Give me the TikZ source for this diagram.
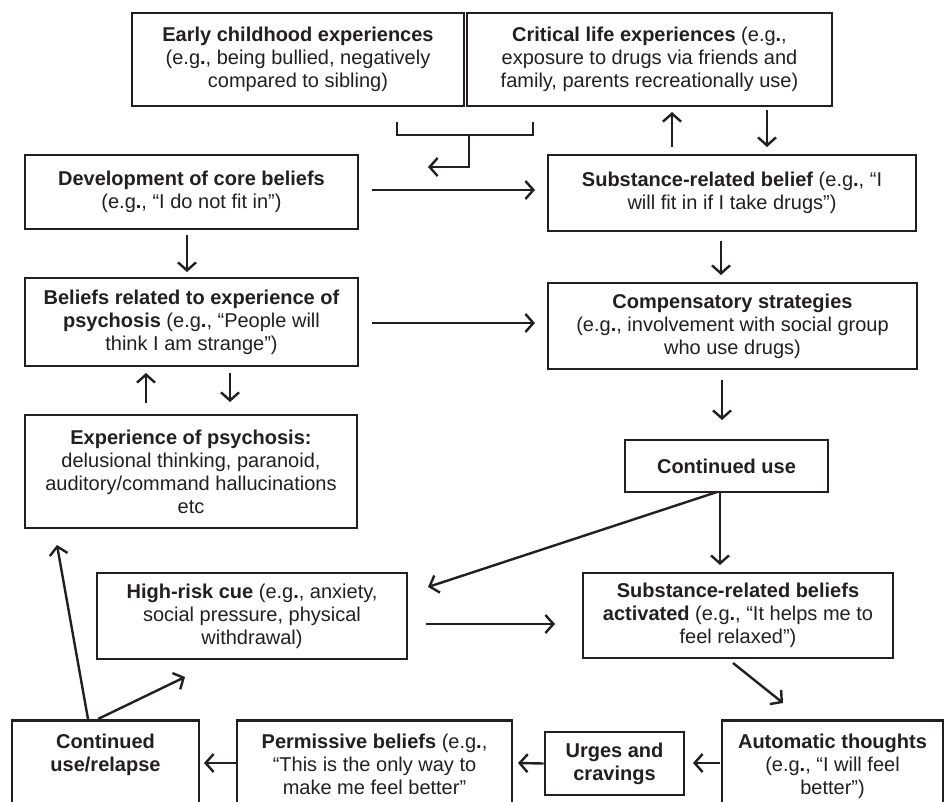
\documentclass[tikz,border=0pt]{standalone}
\usepackage{fontspec}
\setmainfont{Liberation Sans}
\usetikzlibrary{arrows.meta}
\definecolor{ink}{HTML}{231F20}
\tikzset{
  box/.style={draw=ink, line width=2.6pt, inner xsep=0pt, inner ysep=0pt, align=center, text=ink,
              font=\fontsize{20}{23}\selectfont},
  cutbox/.style={box, anchor=north, inner ysep=14pt, text depth=70pt},
  arr/.style={draw=ink, line width=2.4pt, -{Straight Barb[length=8pt,width=18pt]}},
  ln/.style={draw=ink, line width=2.4pt},
}
\begin{document}
\begin{tikzpicture}[x=1pt,y=-1pt]
\useasboundingbox (0,0) rectangle (944,801);
\clip (0,0) rectangle (944,801);
\fill[white] (0,0) rectangle (944,801);

% boxes
\node[box, minimum width=332, minimum height=93] (early) at (298,59.5)
  {\textbf{Early childhood experiences}\\(e.g\textbf{.}, being bullied, negatively\\compared to sibling)};
\node[box, minimum width=365, minimum height=93] (critical) at (649.5,59.5)
  {\textbf{Critical life experiences} (e.g\textbf{.},\\exposure to drugs via friends and\\family, parents recreationally use)};
\node[box, minimum width=333, minimum height=74] (dev) at (191.5,192)
  {\textbf{Development of core beliefs}\\(e.g\textbf{.}, “I do not fit in”)};
\node[box, minimum width=368, minimum height=76] (subst) at (732,193)
  {\textbf{Substance-related belief} (e.g\textbf{.}, “I\\will fit in if I take drugs”)};
\node[box, minimum width=333, minimum height=88] (beliefs) at (191.5,322)
  {\textbf{Beliefs related to experience of}\\\textbf{psychosis} (e.g\textbf{.}, “People will\\think I am strange”)};
\node[box, minimum width=369, minimum height=86] (comp) at (732.5,326)
  {\textbf{Compensatory strategies}\\(e.g\textbf{.}, involvement with social group\\who use drugs)};
\node[box, minimum width=332, minimum height=113] (exp) at (191,471.5)
  {\textbf{Experience of psychosis:}\\delusional thinking, paranoid,\\auditory/command hallucinations\\etc};
\node[box, minimum width=203, minimum height=52] (cont) at (726.5,466)
  {\textbf{Continued use}};
\node[box, minimum width=310, minimum height=86] (highrisk) at (252,616)
  {\textbf{High-risk cue} (e.g\textbf{.}, anxiety,\\social pressure, physical\\withdrawal)};
\node[box, minimum width=310, minimum height=85] (activated) at (738,615.5)
  {\textbf{Substance-related beliefs}\\\textbf{activated} (e.g\textbf{.}, “It helps me to\\feel relaxed”)};
\node[cutbox, minimum width=187] (relapse) at (105.5,719)
  {\textbf{Continued}\\\textbf{use/relapse}};
\node[cutbox, minimum width=275] (permissive) at (374.5,719)
  {\textbf{Permissive beliefs} (e.g\textbf{.},\\“This is the only way to\\make me feel better”};
\node[box, minimum width=139, minimum height=63] (urges) at (614.5,763.5)
  {\textbf{Urges and}\\\textbf{cravings}};
\node[cutbox, minimum width=221] (automatic) at (832.5,719)
  {\textbf{Automatic thoughts}\\(e.g\textbf{.}, “I will feel\\better”)};

% coordinates for connector ends
\coordinate (brL) at (397,122);
\coordinate (brLb) at (397,135);
\coordinate (brRb) at (533,135);
\coordinate (brR) at (533,122);
\coordinate (brM) at (469,135);
\coordinate (brT) at (469,167);
\coordinate (brTip) at (428,167);

\coordinate (upA) at (672,147);   \coordinate (upB) at (672,112);
\coordinate (dnA) at (767,110);   \coordinate (dnB) at (767,147);
\coordinate (h1A) at (372,190);   \coordinate (h1B) at (535,190);
\coordinate (v1A) at (187,235);   \coordinate (v1B) at (187,272);
\coordinate (v2A) at (721,241);   \coordinate (v2B) at (721,275);
\coordinate (h2A) at (372,323);   \coordinate (h2B) at (535,323);
\coordinate (v3A) at (146,403);   \coordinate (v3B) at (146,373);
\coordinate (v4A) at (230,373);   \coordinate (v4B) at (230,402);
\coordinate (v5A) at (722,380);   \coordinate (v5B) at (722,420);
\coordinate (v6A) at (720,492);   \coordinate (v6B) at (720,565);
\coordinate (d1A) at (717,492);   \coordinate (d1B) at (428,587);
\coordinate (h3A) at (426,624);   \coordinate (h3B) at (555,624);
\coordinate (d2A) at (733,663);   \coordinate (d2B) at (783,703);
\coordinate (h4A) at (720,763);   \coordinate (h4B) at (693,763);
\coordinate (h5A) at (545,763);   \coordinate (h5B) at (518,763);
\coordinate (h6A) at (236,763);   \coordinate (h6B) at (204,763);
\coordinate (d3A) at (88,719);    \coordinate (d3B) at (57,545);
\coordinate (d4A) at (98,719);    \coordinate (d4B) at (185,677);

% connectors
\draw[ln] (brL) -- (brLb) -- (brRb) -- (brR);
\draw[arr] (brM) -- (brT) -- (brTip);
\draw[arr] (upA) -- (upB);
\draw[arr] (dnA) -- (dnB);
\draw[arr] (h1A) -- (h1B);
\draw[arr] (v1A) -- (v1B);
\draw[arr] (v2A) -- (v2B);
\draw[arr] (h2A) -- (h2B);
\draw[arr] (v3A) -- (v3B);
\draw[arr] (v4A) -- (v4B);
\draw[arr] (v5A) -- (v5B);
\draw[arr] (v6A) -- (v6B);
\draw[arr] (d1A) -- (d1B);
\draw[arr] (h3A) -- (h3B);
\draw[arr] (d2A) -- (d2B);
\draw[arr] (h4A) -- (h4B);
\draw[arr] (urges.west) -- (h5B);
\draw[arr] (h6A) -- (h6B);
\draw[arr] (d3A) -- (d3B);
\draw[arr] (d4A) -- (d4B);
\end{tikzpicture}
\end{document}
